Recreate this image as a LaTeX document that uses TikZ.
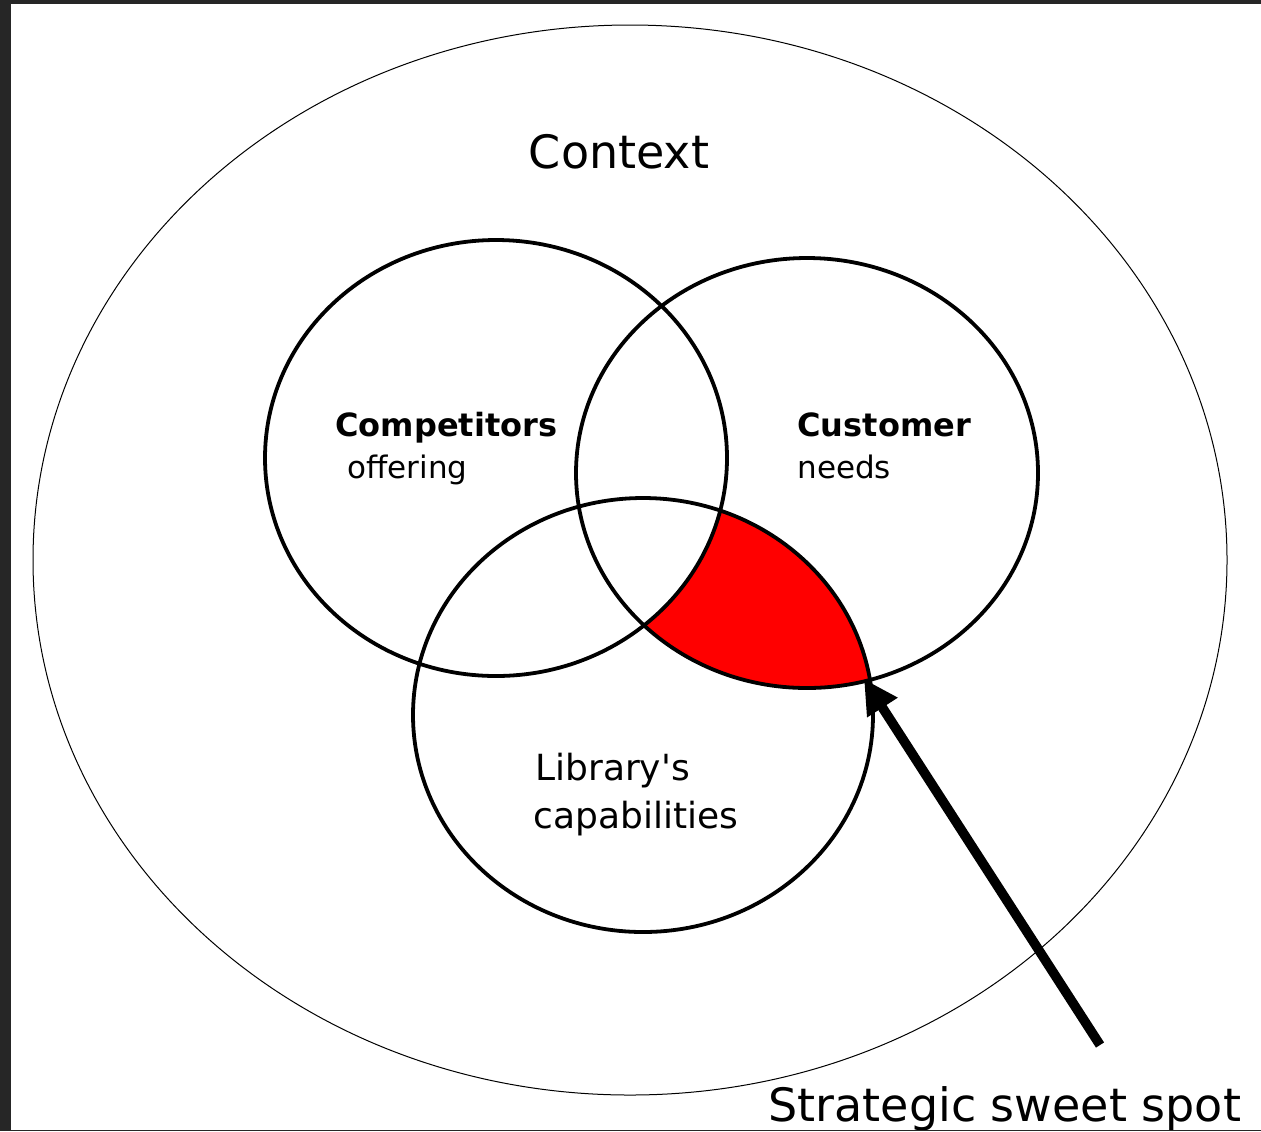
\documentclass[tikz,border=0pt]{standalone}
\usepackage{fontspec}
\setmainfont{DejaVu Sans}
\usetikzlibrary{arrows.meta}
\definecolor{frame}{HTML}{262626}
\definecolor{sweet}{HTML}{FF0000}

\begin{document}
\begin{tikzpicture}[x=.5pt,y=-.5pt,
  ring/.style={line width=1.9pt},
  lbl/.style={anchor=base west,inner sep=0pt}]
 \useasboundingbox(0,0)rectangle(1261,1131);
 \fill[white](0,0)rectangle(1261,1131);
 % sweet spot: customer and library, not competitors
 \begin{scope}
  \clip(807,473)ellipse[x radius=231,y radius=215];
  \clip(643,715)ellipse[x radius=230,y radius=217];
  \fill[sweet,even odd rule](0,0)rectangle(1261,1131)(496,458)ellipse[x radius=231,y radius=218];
 \end{scope}
 \draw[line width=.5pt](630,560)ellipse[x radius=597,y radius=535];
 \draw[ring](496,458)ellipse[x radius=231,y radius=218];
 \draw[ring](807,473)ellipse[x radius=231,y radius=215];
 \draw[ring](643,715)ellipse[x radius=230,y radius=217];
 \node[inner sep=0pt,anchor=base,font=\fontsize{23}{27}\selectfont](context)at(619,168){Context};
 \node[lbl,font=\fontsize{16}{19}\selectfont\bfseries](comp)at(335,436){Competitors};
 \node[lbl,font=\fontsize{15.5}{19}\selectfont](offer)at(347,478){offering};
 \node[lbl,font=\fontsize{16}{19}\selectfont\bfseries](cust)at(797,436){Customer};
 \node[lbl,font=\fontsize{15.5}{19}\selectfont](needs)at(797,478){needs};
 \node[lbl,font=\fontsize{18}{22}\selectfont](lib)at(535,780){Library\textquotesingle s};
 \node[lbl,font=\fontsize{18}{22}\selectfont](capab)at(533,828){capabilities};
 \node[lbl,font=\fontsize{23}{27}\selectfont](spot)at(768,1121){Strategic sweet spot};
 \coordinate(tail)at(1100,1045);
 \coordinate(tip)at(864,679);
 \draw[line width=4.8pt,-{Triangle[length=17pt,width=17pt]}](tail)--(tip);
 % screen frame
 \fill[frame](0,0)rectangle(11,1131);
 \fill[frame](0,0)rectangle(1261,4);
 \fill[frame](0,1129.5)rectangle(1261,1131);
\end{tikzpicture}
\end{document}
